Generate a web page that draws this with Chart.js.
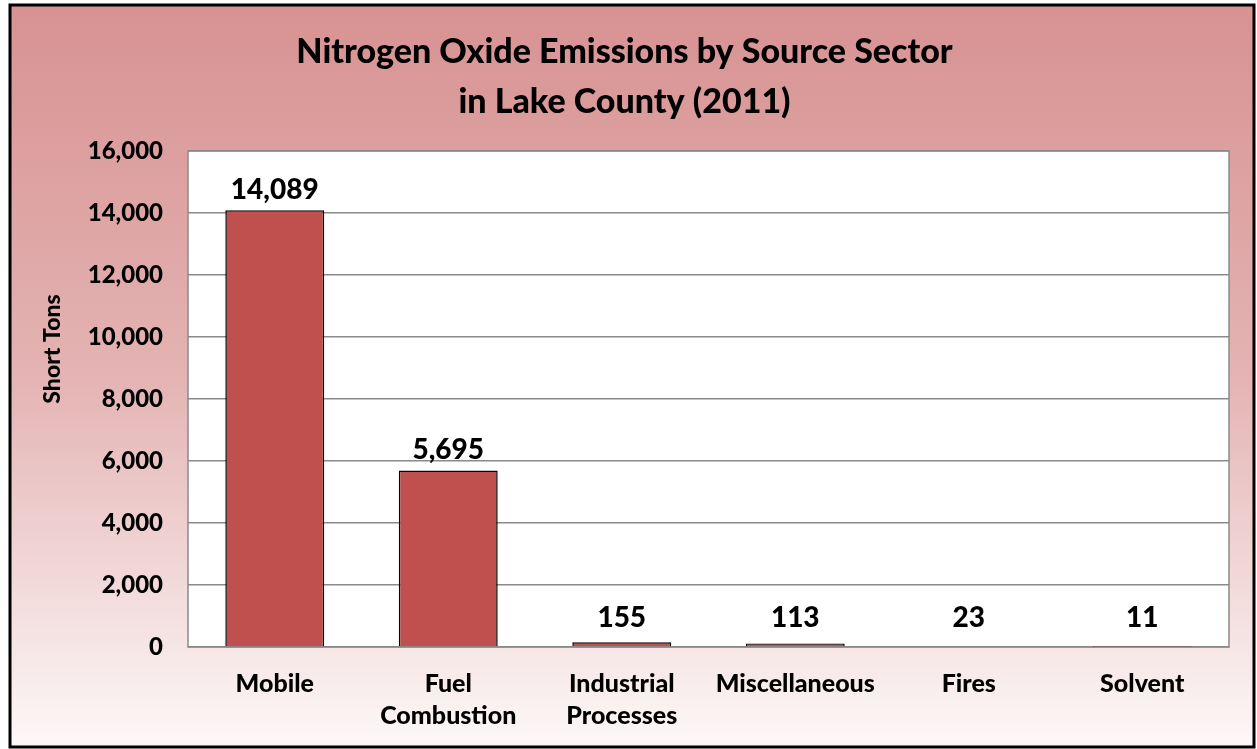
<!DOCTYPE html>
<html>
<head>
<meta charset="utf-8">
<script src="https://cdn.jsdelivr.net/npm/chart.js@4.4.0/dist/chart.umd.min.js"></script>
<style>
  html, body { margin: 0; padding: 0; background: #fff; }
  #wrap { width: 1257px; height: 749px; position: relative; }
</style>
</head>
<body>
<div id="wrap"><canvas id="chart" width="1257" height="749"></canvas></div>
<script>
const categories = [['Mobile'], ['Fuel', 'Combustion'], ['Industrial', 'Processes'], ['Miscellaneous'], ['Fires'], ['Solvent']];
const emissions = [14089, 5695, 155, 113, 23, 11];
const yTicks = [0, 2000, 4000, 6000, 8000, 10000, 12000, 14000, 16000];

const FONT = 'Lato, "Open Sans", sans-serif';

// background gradient, frame, white plot area, axis title
const frame = {
    id: 'frame',
    beforeDraw(chart) {
        const ctx = chart.ctx;
        const a = chart.chartArea;
        ctx.save();
        const g = ctx.createLinearGradient(0, 5, 0, 747);
        g.addColorStop(0, '#d89292');
        g.addColorStop(0.5, '#e4b3b3');
        g.addColorStop(1, '#fdf8f8');
        ctx.fillStyle = g;
        ctx.fillRect(10, 5, 1244, 742);
        ctx.lineWidth = 3;
        ctx.strokeStyle = '#000';
        ctx.strokeRect(10, 5, 1244, 742);
        ctx.fillStyle = '#fff';
        ctx.fillRect(a.left, a.top, a.right - a.left, a.bottom - a.top);
        ctx.strokeStyle = '#8a8a8a';
        ctx.lineWidth = 1.5;
        ctx.strokeRect(a.left, a.top, a.right - a.left, a.bottom - a.top);
        // axis title
        ctx.translate(53, 349);
        ctx.rotate(-Math.PI / 2);
        ctx.font = '900 23px ' + FONT;
        ctx.fillStyle = '#000';
        ctx.textAlign = 'center';
        ctx.textBaseline = 'middle';
        ctx.fillText('Short Tons', 0, 0);
        ctx.restore();
    }
};

// value labels above bars
const valueLabels = {
    id: 'valueLabels',
    afterDatasetsDraw(chart) {
        const ctx = chart.ctx;
        const meta = chart.getDatasetMeta(0);
        ctx.save();
        ctx.font = '900 28px ' + FONT;
        ctx.fillStyle = '#000';
        ctx.textAlign = 'center';
        ctx.textBaseline = 'alphabetic';
        meta.data.forEach((bar, i) => {
            const y = Math.min(bar.y - 11, chart.chartArea.bottom - 20);
            ctx.fillText(emissions[i].toLocaleString('en-US'), bar.x, y);
        });
        ctx.restore();
    }
};

new Chart(document.getElementById('chart'), {
    type: 'bar',
    data: {
        labels: categories,
        datasets: [{
            data: emissions,
            backgroundColor: '#c0504d',
            borderColor: '#000',
            borderWidth: 1.5,
            categoryPercentage: 1,
            barPercentage: 0.57
        }]
    },
    options: {
        responsive: false,
        animation: false,
        layout: { padding: { left: 20, right: 28, top: 0, bottom: 12 } },
        plugins: {
            legend: { display: false },
            tooltip: { enabled: false },
            title: {
                display: true,
                text: ['Nitrogen Oxide Emissions by Source Sector', 'in Lake County (2011)'],
                color: '#000',
                font: { family: FONT, size: 34, weight: '900', lineHeight: 50 / 34 },
                padding: { top: 27, bottom: 24 }
            }
        },
        scales: {
            x: {
                grid: { display: false, drawTicks: false },
                border: { display: false },
                ticks: {
                    color: '#000',
                    padding: 21,
                    font: { family: FONT, size: 25, weight: '900', lineHeight: 32 / 25 }
                },
                afterFit(scale) { scale.height = 90; }
            },
            y: {
                min: 0,
                max: 16000,
                afterBuildTicks(scale) { scale.ticks = yTicks.map(v => ({ value: v })); },
                grid: { color: '#8a8a8a', lineWidth: 1.5, drawTicks: false },
                border: { display: false },
                ticks: {
                    color: '#000',
                    padding: 25,
                    font: { family: FONT, size: 24, weight: '900' },
                    callback: v => v.toLocaleString('en-US')
                },
                afterFit(scale) { scale.width = 168; }
            }
        }
    },
    plugins: [frame, valueLabels]
});
</script>
</body>
</html>
